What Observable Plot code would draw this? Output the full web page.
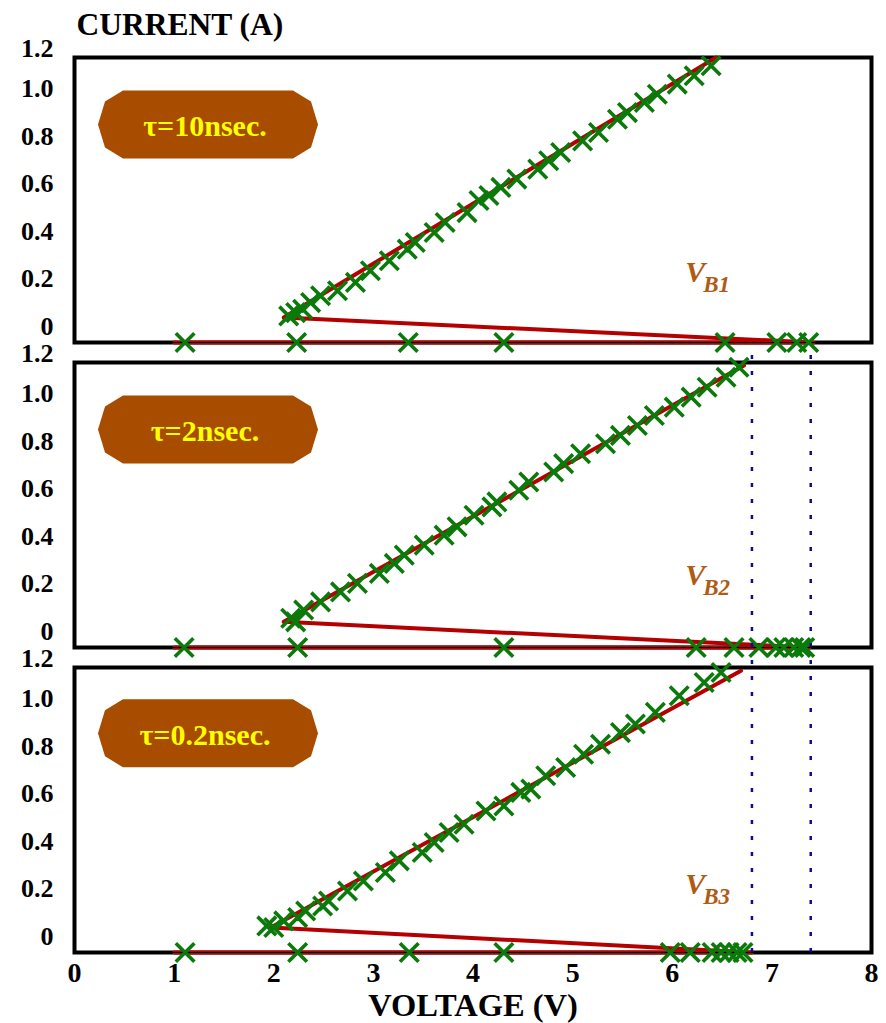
<!DOCTYPE html>
<html><head><meta charset="utf-8">
<script src="https://cdn.jsdelivr.net/npm/d3@7"></script>
<script src="https://cdn.jsdelivr.net/npm/@observablehq/plot@0.6"></script>
<style>body{margin:0;background:#fff} #chart svg{display:block}</style>
</head><body><div id="chart"></div>
<script>
const panelKeys = ["10", "2", "0.2"];
const tauLabels = ["τ=10nsec.", "τ=2nsec.", "τ=0.2nsec."];
const vbSubs = ["B1", "B2", "B3"];
const vbY = [0.253, 0.263, 0.246];
const vbX = [6.13, 6.13, 6.13];
const boxY = [0.918, 0.918, 0.923];
const boxX = 1.34;
const xTicks = [0, 1, 2, 3, 4, 5, 6, 7, 8];
const yTicks = [0, 0.2, 0.4, 0.6, 0.8, 1.0];
const yTopTick = [1.2];
const breakdownX = [6.80, 7.39];

// tau = 10 nsec
const rise10 = [[2.15,0.112],[2.22,0.126],[2.29,0.140],[2.37,0.168],[2.47,0.197],[2.64,0.218],[2.82,0.253],[2.97,0.302],[3.16,0.344],[3.34,0.393],[3.42,0.421],[3.61,0.463],[3.72,0.505],[3.94,0.547],[4.06,0.598],[4.16,0.619],[4.28,0.653],[4.44,0.688],[4.65,0.730],[4.76,0.765],[4.88,0.800],[5.10,0.849],[5.26,0.884],[5.45,0.940],[5.55,0.968],[5.72,1.011],[5.85,1.045],[6.05,1.088],[6.22,1.123],[6.39,1.165]];
const zero10 = [1.11, 2.23, 3.35, 4.31, 6.53, 7.05, 7.25, 7.37];
const red10 = [[1.0,0],[7.42,0],[2.10,0.105],[6.44,1.2]];

// tau = 2 nsec
const rise2 = [[2.17,0.123],[2.22,0.108],[2.30,0.158],[2.47,0.192],[2.67,0.234],[2.84,0.270],[3.06,0.312],[3.21,0.354],[3.31,0.389],[3.51,0.431],[3.71,0.473],[3.84,0.508],[4.01,0.557],[4.19,0.592],[4.24,0.613],[4.46,0.662],[4.56,0.697],[4.81,0.739],[4.91,0.774],[5.08,0.816],[5.33,0.858],[5.48,0.893],[5.65,0.935],[5.82,0.977],[6.02,1.012],[6.19,1.054],[6.35,1.096],[6.54,1.138],[6.67,1.180]];
const zero2 = [1.10, 2.24, 4.31, 6.24, 6.62, 6.87, 7.04, 7.12, 7.22, 7.29, 7.33];
const red2 = [[1.0,0],[7.38,0],[2.10,0.108],[6.72,1.187]];

// tau = 0.2 nsec
const rise02 = [[1.93,0.112],[2.00,0.105],[2.10,0.133],[2.24,0.147],[2.32,0.175],[2.49,0.196],[2.55,0.217],[2.74,0.259],[2.90,0.301],[3.12,0.337],[3.26,0.386],[3.49,0.421],[3.61,0.463],[3.76,0.505],[3.91,0.540],[4.13,0.596],[4.31,0.617],[4.48,0.674],[4.58,0.688],[4.73,0.744],[4.93,0.779],[5.11,0.835],[5.28,0.877],[5.48,0.926],[5.63,0.962],[5.83,1.011],[6.07,1.081],[6.32,1.137],[6.49,1.179]];
const zero02 = [1.11, 2.24, 3.36, 4.31, 5.98, 6.18, 6.40, 6.49, 6.57, 6.65, 6.71];
const red02 = [[1.0,0],[6.80,0],[1.97,0.105],[6.69,1.186]];

const rises = [rise10, rise2, rise02];
const zeros = [zero10, zero2, zero02];
const reds = [red10, red2, red02];

const points = panelKeys.flatMap((p, i) => [
  ...rises[i].map(([x, y]) => ({panel: p, x, y})),
  ...zeros[i].map(x => ({panel: p, x, y: 0}))
]);
const redRows = panelKeys.flatMap((p, i) => reds[i].map(([x, y]) => ({panel: p, x, y})));
const labelRows = panelKeys.map((p, i) => ({panel: p, tau: tauLabels[i], sub: vbSubs[i], vx: vbX[i], vy: vbY[i], by: boxY[i]}));
const blueRows = [
  ...breakdownX.map(x => ({panel: "2", x, y1: 0, y2: 1.232})),
  ...breakdownX.map(x => ({panel: "0.2", x, y1: 0, y2: 1.28}))
];

const serif = "'Liberation Serif', 'Times New Roman', serif";
const boxSymbol = {
  draw(ctx) {
    const pts = [[-85,-34],[85,-34],[103,-23],[110,0],[103,23],[85,34],[-85,34],[-103,23],[-110,0],[-103,-23]];
    ctx.moveTo(pts[0][0], pts[0][1]);
    for (let k = 1; k < pts.length; k++) ctx.lineTo(pts[k][0], pts[k][1]);
    ctx.closePath();
  }
};
const yFmt = d => d === 0 ? "0" : d.toFixed(1);
const yAxisStyle = {tickSize: 0, tickPadding: 21, tickFormat: yFmt, fontSize: 26, fontWeight: "bold", fill: "black", label: null};

const chart = Plot.plot({
  width: 886,
  height: 1023,
  marginLeft: 74,
  marginRight: 15,
  marginTop: 56,
  marginBottom: 71,
  style: {fontFamily: serif, background: "#fff"},
  x: {domain: [0, 8]},
  y: {domain: [0, 1.2]},
  fy: {domain: panelKeys, axis: null, paddingInner: 0.0671, paddingOuter: 0},
  marks: [
    Plot.frame({stroke: "black", strokeWidth: 4}),
    Plot.line(redRows, {x: "x", y: "y", fy: "panel", z: "panel", stroke: "#b40000", strokeWidth: 4, strokeLinejoin: "round"}),
    Plot.ruleY(panelKeys.map(p => ({panel: p, y: 0})), {y: "y", fy: "panel", stroke: "black", strokeWidth: 1.2}),
    Plot.dot(points, {x: "x", y: "y", fy: "panel", symbol: "times", r: 8.5, stroke: "#0a7a0a", strokeWidth: 3.6}),
    Plot.dot(labelRows, {x: () => boxX, y: "by", fy: "panel", symbol: boxSymbol, r: 10, fill: "#a84c00", stroke: "none"}),
    Plot.text(labelRows, {x: () => boxX, y: "by", fy: "panel", text: "tau", dx: -3, dy: 2, fill: "#ffff00", fontSize: 30, fontWeight: "bold"}),
    Plot.text(labelRows, {x: "vx", y: "vy", fy: "panel", text: () => "V", textAnchor: "start", lineAnchor: "bottom", fill: "#b05a14", fontSize: 30, fontWeight: "bold", fontStyle: "italic"}),
    Plot.text(labelRows, {x: "vx", y: "vy", fy: "panel", text: "sub", dx: 18, dy: 10, textAnchor: "start", lineAnchor: "bottom", fill: "#b05a14", fontSize: 23, fontWeight: "bold", fontStyle: "italic"}),
    Plot.ruleX(blueRows, {x: "x", y1: "y1", y2: "y2", fy: "panel", stroke: "#0a0a9a", strokeWidth: 2.5, strokeDasharray: "4,12"}),
    Plot.axisY(yTicks, {...yAxisStyle, dy: -16}),
    Plot.axisY(yTopTick, {...yAxisStyle, dy: -9}),
    Plot.axisX(xTicks, {tickSize: 0, tickPadding: 10, fontSize: 28, fontWeight: "bold", fill: "black", label: null}),
    Plot.text([{panel: "10", t: "CURRENT (A)"}], {fy: "panel", frameAnchor: "top-left", text: "t", dx: 2, dy: -23, textAnchor: "start", lineAnchor: "bottom", fontSize: 31.5, fontWeight: "bold", fill: "black"}),
    Plot.text([{panel: "0.2", t: "VOLTAGE (V)"}], {fy: "panel", frameAnchor: "bottom", text: "t", dy: 63, lineAnchor: "bottom", fontSize: 32.5, fontWeight: "bold", fill: "black"})
  ]
});
document.getElementById("chart").appendChild(chart);
</script>
</body></html>
